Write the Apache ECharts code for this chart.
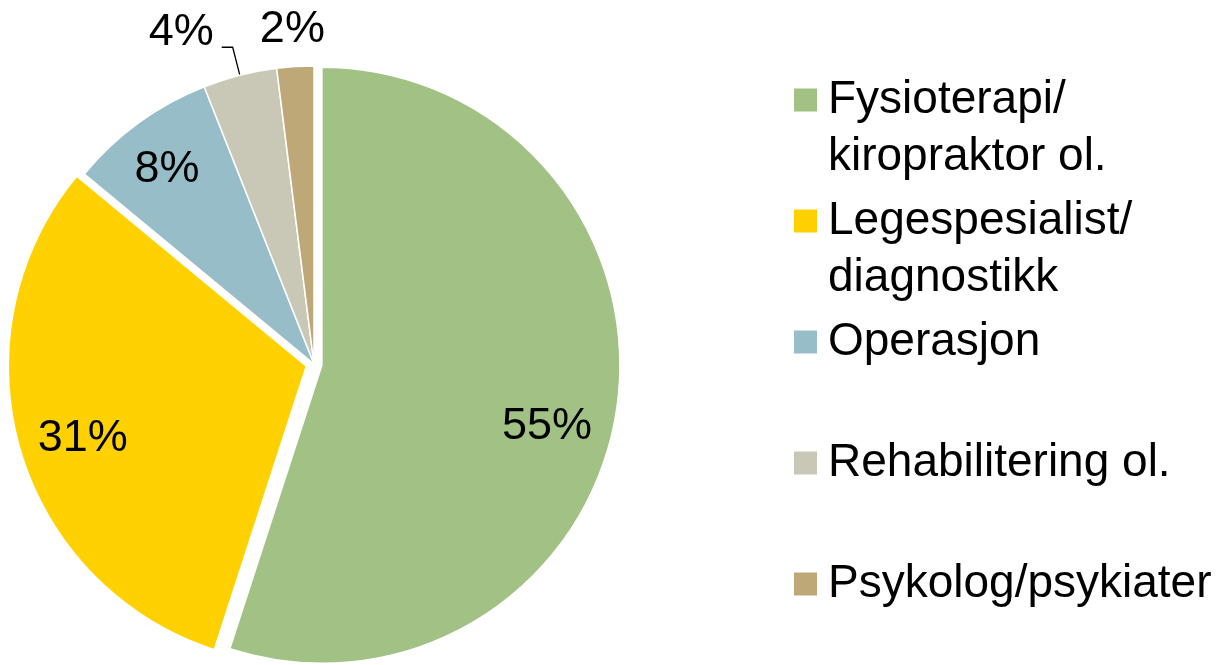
<!DOCTYPE html>
<html>
<head>
<meta charset="utf-8">
<script src="https://cdn.jsdelivr.net/npm/echarts@6/dist/echarts.min.js"></script>
<style>
  html, body { margin: 0; padding: 0; background: #fff; }
  #chart { width: 1231px; height: 665px; }
</style>
</head>
<body>
<div id="chart"></div>
<script>
// kategorier og andeler (%)
var categories = ['Fysioterapi/\nkiropraktor ol.', 'Legespesialist/\ndiagnostikk', 'Operasjon', 'Rehabilitering ol.', 'Psykolog/psykiater'];
var shares = [55, 31, 8, 4, 2];
var colors = ['#A1C284', '#FFD100', '#96BDC8', '#C9C8B6', '#BFA877'];

var FONT = "'Liberation Sans', Arial, sans-serif";
var center = [314, 364];
var R = 298;

// slices: the two big ones are pulled out a bit
var sliceData = categories.map(function (name, i) {
    var small = shares[i] < 5;
    return {
        name: name,
        value: shares[i],
        selected: i < 2,
        itemStyle: { color: colors[i] },
        label: small ? {
            show: true,
            position: 'outside',
            formatter: '{c}%\n',   // blank 2nd line lifts the text above the leader
            lineHeight: 30,
            distanceToLabelLine: 8
        } : { show: false },
        labelLine: i === 3
            ? { show: true, length: 29, length2: 11 }
            : { show: false, length: 22, length2: -39 }
    };
});

// transparent copy only used to place the inside labels further out
var labelData = categories.map(function (name, i) {
    return {
        name: name,
        value: shares[i],
        selected: i < 2,
        label: { show: shares[i] >= 5 }
    };
});

var chart = echarts.init(document.getElementById('chart'));
chart.setOption({
    animation: false,
    backgroundColor: '#fff',
    legend: {
        orient: 'vertical',
        left: 792,
        top: 14.5,
        height: 700,
        padding: 0,
        itemGap: -50,
        itemWidth: 25,
        itemHeight: 25,
        icon: 'rect',
        selectedMode: false,
        data: categories,
        // every entry gets 3 lines so the slots are equal and the first line sits by the icon
        formatter: function (name) {
            return name.indexOf('\n') >= 0 ? '\n' + name : '\n' + name + '\n';
        },
        textStyle: {
            fontFamily: FONT,
            fontSize: 46,
            lineHeight: 57,
            color: '#000',
            padding: [0, 0, 0, 5]
        }
    },
    series: [
        {
            type: 'pie',
            center: center,
            radius: R,
            startAngle: 90,
            selectedMode: 'multiple',
            selectedOffset: 8,
            avoidLabelOverlap: false,
            emphasis: { disabled: true },
            itemStyle: { borderColor: '#fff', borderWidth: 1.5 },
            label: {
                fontFamily: FONT,
                fontSize: 45,
                color: '#000',
                formatter: '{c}%'
            },
            labelLine: { lineStyle: { color: '#000', width: 1.3 }, smooth: false },
            data: sliceData
        },
        {
            type: 'pie',
            center: center,
            radius: [176, R],
            startAngle: 90,
            silent: true,
            selectedMode: 'multiple',
            selectedOffset: 8,
            emphasis: { disabled: true },
            itemStyle: { color: 'rgba(0,0,0,0)', borderWidth: 0 },
            label: {
                position: 'inside',
                fontFamily: FONT,
                fontSize: 45,
                color: '#000',
                formatter: '{c}%'
            },
            labelLine: { show: false },
            labelLayout: function (p) {
                if (p.dataIndex === 0) return { dx: -12, dy: 24 };
                if (p.dataIndex === 1) return { dx: 7, dy: 5 };
                if (p.dataIndex === 2) return { dx: -6 };
                return {};
            },
            data: labelData
        }
    ]
});
</script>
</body>
</html>
